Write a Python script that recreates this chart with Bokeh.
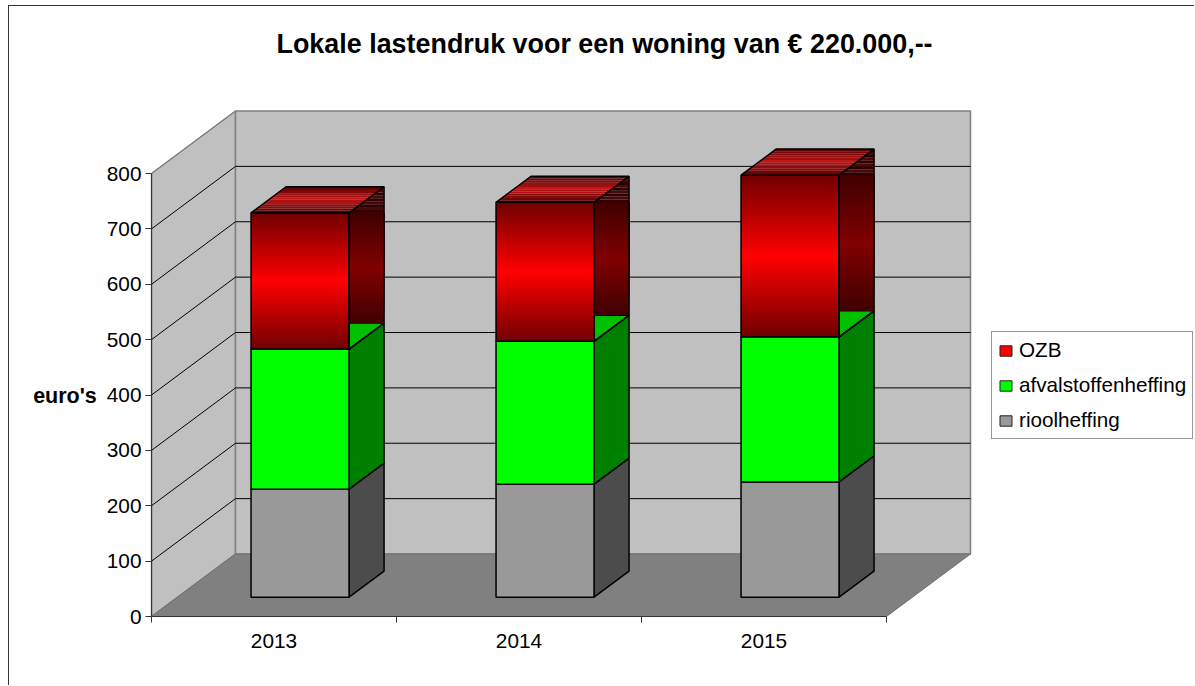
from bokeh.plotting import figure
from bokeh.embed import file_html
from bokeh.resources import INLINE
from bokeh.models import FixedTicker, Range1d, Legend, LegendItem, LinearAxis

# ---- data ----
years = ["2013", "2014", "2015"]
rioolheffing = [195, 204, 208]
afvalstoffenheffing = [253, 258, 262]
ozb = [246, 251, 292]
y_ticks = [0, 100, 200, 300, 400, 500, 600, 700, 800]
title = "Lokale lastendruk voor een woning van € 220.000,--"
y_label = "euro's"

# ---- layout ----
W, H = 1186, 680            # canvas size
FRAME_L, FRAME_T, FRAME_B = 142, 60, 70   # canvas margins round the data frame
PX_CAT = 245.0              # px per category
PX_EUR = 0.55375            # px per euro
FRAME_W = W - FRAME_L
FRAME_H = H - FRAME_T - FRAME_B
DEPTH_X = 84 / PX_CAT       # wall depth in category units
DEPTH_Y = 62.5 / PX_EUR     # wall depth in euro units
D0, D1 = 0.31, 0.727        # front and back of the bars, as a share of the depth
BAR_W = 0.40
FONT = "Liberation Sans"

p = figure(width=W, height=H, output_backend="svg", toolbar_location=None,
           x_range=Range1d(0, FRAME_W / PX_CAT), y_range=Range1d(0, FRAME_H / PX_EUR),
           x_axis_type=None, y_axis_type=None,
           min_border_left=FRAME_L, min_border_right=0, min_border_top=FRAME_T, min_border_bottom=FRAME_B,
           styles={"position": "absolute", "left": "8px", "top": "5px",
                   "border-left": "1px solid #333333", "border-top": "1px solid #333333"})
p.outline_line_color = None
p.background_fill_color = "white"
p.border_fill_color = "white"

p.title.text = title
p.title.text_font = FONT
p.title.text_font_size = "26.9px"
p.title.text_font_style = "bold"
p.title.text_color = "black"
p.title.align = "left"
p.title.offset = 125
p.title.standoff = 16

n = len(years)
top = y_ticks[-1]

# walls and floor
wall_x = [[0, DEPTH_X, DEPTH_X, 0], [DEPTH_X, n + DEPTH_X, n + DEPTH_X, DEPTH_X]]
wall_y = [[0, DEPTH_Y, top + DEPTH_Y, top], [DEPTH_Y, DEPTH_Y, top + DEPTH_Y, top + DEPTH_Y]]
p.patches(wall_x, wall_y, fill_color="#C0C0C0", line_color="#808080", line_width=1.5)
p.patch([0, n, n + DEPTH_X, DEPTH_X], [0, 0, DEPTH_Y, DEPTH_Y], fill_color="#808080", line_color="#707070", line_width=1)

# grid lines
grid = [t for t in y_ticks if t > 0 and t < top] + [top]
for t in grid:
    if t < top:
        p.line([DEPTH_X, n + DEPTH_X], [t + DEPTH_Y, t + DEPTH_Y], line_color="black", line_width=1)
    p.line([0, DEPTH_X], [t, t + DEPTH_Y], line_color="black" if t < top else "#808080", line_width=1)


def mix(a, b, t):
    return "#%02x%02x%02x" % tuple(int(round(u + (v - u) * t)) for u, v in zip(a, b))


def box_face(x0, x1, v0, v1, fill):
    p.quad(left=[x0], right=[x1], bottom=[v0], top=[v1], fill_color=fill, line_color="black", line_width=1.5)


def side_face(x1, v0, v1, fill):
    dx, dv = (D1 - D0) * DEPTH_X, (D1 - D0) * DEPTH_Y
    p.patch([x1, x1 + dx, x1 + dx, x1], [v0, v0 + dv, v1 + dv, v1], fill_color=fill, line_color="black", line_width=1.5)


BANDS = 60
for i in range(n):
    x0 = i + 0.5 - BAR_W / 2 + D0 * DEPTH_X
    x1 = x0 + BAR_W
    dx, dv = (D1 - D0) * DEPTH_X, (D1 - D0) * DEPTH_Y
    base = D0 * DEPTH_Y
    a = base + rioolheffing[i]
    b = a + afvalstoffenheffing[i]
    c = b + ozb[i]

    # rioolheffing
    side_face(x1, base, a, "#4C4C4C")
    box_face(x0, x1, base, a, "#999999")
    # afvalstoffenheffing
    side_face(x1, a, b, "#008000")
    box_face(x0, x1, a, b, "#00FF00")
    p.patch([x0, x1, x1 + dx, x0 + dx], [b, b, b + dv, b + dv], fill_color="#00C000", line_color="black", line_width=1.5)

    # OZB front, gradient dark - red - dark; each band runs on to the top so no seams show
    edges = [b + (c - b) * k / BANDS for k in range(BANDS)]
    cols = [mix((0x70, 0, 0), (0xFF, 0, 0), 1 - abs((k + 0.5) / BANDS * 2 - 1)) for k in range(BANDS)]
    p.quad(left=x0, right=x1, bottom=edges, top=c, fill_color=cols, line_color=None)
    p.quad(left=[x0], right=[x1], bottom=[b], top=[c], fill_color=None, line_color="black", line_width=1.5)

    # OZB side: flat gradient, then striped wedge on top
    s0, s1 = b + dv, c
    se = [s0 + (s1 - s0) * k / 30 for k in range(30)]
    sc = [mix((0x40, 0, 0), (0x80, 0, 0), 1 - abs((k + 0.5) / 30 * 2 - 1)) for k in range(30)]
    p.quad(left=x1, right=x1 + dx, bottom=se, top=s1, fill_color=sc, line_color=None)
    sides_x, sides_y, side_c = [], [], []
    for k in range(9):
        u0, u1 = k / 9, (k + 1) / 9
        sides_x.append([x1 + u0 * dx, x1 + dx, x1 + dx, x1 + u1 * dx])
        sides_y.append([c + u0 * dv, c + u0 * dv, c + u1 * dv, c + u1 * dv])
        side_c.append("#4a0808" if k % 2 else "#2e0000")
    p.patches(sides_x, sides_y, fill_color=side_c, line_color=None)
    p.patch([x1, x1 + dx, x1 + dx, x1], [b, b + dv, c + dv, c], fill_color=None, line_color="black", line_width=1.5)

    # OZB top: stripes
    tx, ty, tc = [], [], []
    for k in range(12):
        u0, u1 = k / 12, (k + 1) / 12
        tx.append([x0 + u0 * dx, x1 + u0 * dx, x1 + u1 * dx, x0 + u1 * dx])
        ty.append([c + u0 * dv, c + u0 * dv, c + u1 * dv, c + u1 * dv])
        shade = 1 - abs((k + 0.5) / 12 * 2 - 1)
        tc.append(mix((0x58, 0, 0), (0xCC, 0x18, 0x18), shade * (0.8 if k % 2 else 1)))
    p.patches(tx, ty, fill_color=tc, line_color=None)
    p.patch([x0, x1, x1 + dx, x0 + dx], [c, c, c + dv, c + dv], fill_color=None, line_color="black", line_width=1.5)

# axes: the axis title carries blank lines above it, which lowers it to the middle of the scale
yax = LinearAxis(ticker=FixedTicker(ticks=y_ticks), bounds=(0, top),
                 axis_label="\n\n\n\n" + y_label, axis_label_orientation="horizontal",
                 axis_label_text_font=FONT, axis_label_text_font_size="21.5px",
                 axis_label_text_font_style="bold", axis_label_text_color="black",
                 axis_label_text_line_height=1.13, axis_label_standoff=7,
                 major_label_text_font=FONT, major_label_text_font_size="20.8px",
                 major_label_text_color="black", major_label_standoff=4,
                 major_tick_in=0, major_tick_out=6, minor_tick_in=0, minor_tick_out=0,
                 major_tick_line_color="#333333", axis_line_color="#333333", axis_line_width=1.2)
p.add_layout(yax, "left")

centers = [i + 0.5 for i in range(n)]
xax = LinearAxis(ticker=FixedTicker(ticks=centers, minor_ticks=list(range(n + 1))), bounds=(0, n),
                 major_label_overrides={c: y for c, y in zip(centers, years)},
                 major_label_text_font=FONT, major_label_text_font_size="20.8px",
                 major_label_text_color="black", major_label_standoff=11,
                 major_tick_in=0, major_tick_out=0, minor_tick_in=0, minor_tick_out=6,
                 minor_tick_line_color="#333333", axis_line_color="#333333", axis_line_width=1.2)
p.add_layout(xax, "below")

# legend: its swatches come from renderers parked outside the visible range
off = -1.0
r_ozb = p.quad(left=[off], right=[off], bottom=[off], top=[off], fill_color="#FF0000", line_color="#222222")
r_afv = p.quad(left=[off], right=[off], bottom=[off], top=[off], fill_color="#00FF00", line_color="#222222")
r_rio = p.quad(left=[off], right=[off], bottom=[off], top=[off], fill_color="#999999", line_color="#222222")
legend = Legend(items=[LegendItem(label="OZB", renderers=[r_ozb]),
                       LegendItem(label="afvalstoffenheffing", renderers=[r_afv]),
                       LegendItem(label="rioolheffing", renderers=[r_rio])],
                location=(840, 177), orientation="vertical", margin=0, padding=6, spacing=11,
                glyph_width=15, glyph_height=13, label_standoff=6, label_height=23,
                label_text_font=FONT, label_text_font_size="20.7px", label_text_color="black",
                border_line_color="#333333", border_line_width=1.2, background_fill_color="white",
                background_fill_alpha=1)
p.add_layout(legend, "center")

open("out.html", "w").write(file_html(p, INLINE))
